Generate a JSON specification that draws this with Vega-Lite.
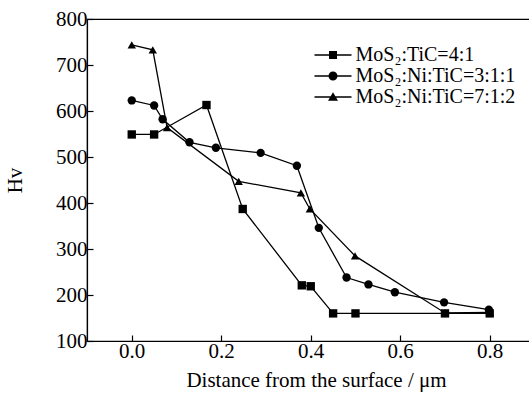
{
  "$schema": "https://vega.github.io/schema/vega-lite/v6.json",
  "autosize": "none",
  "padding": {"left": 87, "top": 19, "right": 0, "bottom": 69},
  "width": 443,
  "height": 322,
  "background": "white",
  "config": {
    "font": "Liberation Serif",
    "view": {"stroke": "black", "strokeWidth": 1.2},
    "axis": {"grid": false, "domainColor": "black", "tickColor": "black", "labelColor": "black", "titleColor": "black", "labelFont": "Liberation Serif", "titleFont": "Liberation Serif", "labelFontSize": 21, "titleFontSize": 21, "titleFontWeight": "normal", "tickSize": -6, "domainWidth": 1.2, "tickWidth": 1.2}
  },
  "data": {"values": [
    {"series": "MoS₂:TiC=4:1", "x": 0.0, "y": 549},
    {"series": "MoS₂:TiC=4:1", "x": 0.05, "y": 549},
    {"series": "MoS₂:TiC=4:1", "x": 0.167, "y": 613},
    {"series": "MoS₂:TiC=4:1", "x": 0.248, "y": 387},
    {"series": "MoS₂:TiC=4:1", "x": 0.38, "y": 221},
    {"series": "MoS₂:TiC=4:1", "x": 0.40, "y": 219},
    {"series": "MoS₂:TiC=4:1", "x": 0.45, "y": 160},
    {"series": "MoS₂:TiC=4:1", "x": 0.50, "y": 160},
    {"series": "MoS₂:TiC=4:1", "x": 0.70, "y": 160},
    {"series": "MoS₂:TiC=4:1", "x": 0.80, "y": 160},
    {"series": "MoS₂:Ni:TiC=3:1:1", "x": 0.0, "y": 623},
    {"series": "MoS₂:Ni:TiC=3:1:1", "x": 0.05, "y": 612},
    {"series": "MoS₂:Ni:TiC=3:1:1", "x": 0.069, "y": 582},
    {"series": "MoS₂:Ni:TiC=3:1:1", "x": 0.129, "y": 532},
    {"series": "MoS₂:Ni:TiC=3:1:1", "x": 0.188, "y": 520},
    {"series": "MoS₂:Ni:TiC=3:1:1", "x": 0.288, "y": 509},
    {"series": "MoS₂:Ni:TiC=3:1:1", "x": 0.369, "y": 481},
    {"series": "MoS₂:Ni:TiC=3:1:1", "x": 0.418, "y": 346},
    {"series": "MoS₂:Ni:TiC=3:1:1", "x": 0.48, "y": 238},
    {"series": "MoS₂:Ni:TiC=3:1:1", "x": 0.529, "y": 223},
    {"series": "MoS₂:Ni:TiC=3:1:1", "x": 0.588, "y": 206},
    {"series": "MoS₂:Ni:TiC=3:1:1", "x": 0.698, "y": 184},
    {"series": "MoS₂:Ni:TiC=3:1:1", "x": 0.798, "y": 168},
    {"series": "MoS₂:Ni:TiC=7:1:2", "x": 0.0, "y": 744},
    {"series": "MoS₂:Ni:TiC=7:1:2", "x": 0.047, "y": 733},
    {"series": "MoS₂:Ni:TiC=7:1:2", "x": 0.079, "y": 564},
    {"series": "MoS₂:Ni:TiC=7:1:2", "x": 0.239, "y": 447},
    {"series": "MoS₂:Ni:TiC=7:1:2", "x": 0.378, "y": 422},
    {"series": "MoS₂:Ni:TiC=7:1:2", "x": 0.398, "y": 387},
    {"series": "MoS₂:Ni:TiC=7:1:2", "x": 0.499, "y": 285},
    {"series": "MoS₂:Ni:TiC=7:1:2", "x": 0.70, "y": 161},
    {"series": "MoS₂:Ni:TiC=7:1:2", "x": 0.80, "y": 162}
  ]},
  "encoding": {
    "x": {"field": "x", "type": "quantitative", "scale": {"domain": [-0.1, 0.89], "nice": false, "zero": false},
      "axis": {"values": [0, 0.2, 0.4, 0.6, 0.8], "format": ".1f", "title": "Distance from the surface / μm", "labelPadding": 5, "titlePadding": 8, "titleX": 229}},
    "y": {"field": "y", "type": "quantitative", "scale": {"domain": [100, 800], "nice": false, "zero": false},
      "axis": {"values": [100, 200, 300, 400, 500, 600, 700, 800], "title": "Hv", "labelPadding": 6, "titlePadding": 30}}
  },
  "layer": [
    {"mark": {"type": "line", "color": "black", "strokeWidth": 1.3},
     "encoding": {"detail": {"field": "series"}}},
    {"mark": {"type": "point", "filled": true, "color": "black", "opacity": 1, "size": 70},
     "encoding": {
       "shape": {"field": "series", "type": "nominal",
         "scale": {"domain": ["MoS₂:TiC=4:1", "MoS₂:Ni:TiC=3:1:1", "MoS₂:Ni:TiC=7:1:2"], "range": ["square", "circle", "triangle-up"]},
         "legend": null}}},
    {"mark": {"type": "point", "filled": true, "color": "black", "opacity": 0, "size": 100},
     "encoding": {
       "shape": {"field": "series", "type": "nominal",
         "scale": {"domain": ["MoS₂:TiC=4:1", "MoS₂:Ni:TiC=3:1:1", "MoS₂:Ni:TiC=7:1:2"],
           "range": ["M-3.7,-0.13H3.7V0.13H-3.7Z M-0.8,-0.8H0.8V0.8H-0.8Z", "M-3.7,-0.13H3.7V0.13H-3.7Z M0.9,0A0.9,0.9 0 1,1 -0.9,0A0.9,0.9 0 1,1 0.9,0Z", "M-3.7,-0.13H3.7V0.13H-3.7Z M0,-0.95L1,0.75L-1,0.75Z"]},
         "legend": {"title": null, "orient": "none", "legendX": 236, "legendY": 26, "padding": 0,
           "labelFontSize": 20, "labelFont": "Liberation Serif", "labelColor": "black", "labelOffset": 12.5,
           "symbolSize": 100, "rowPadding": 1, "symbolFillColor": "black", "symbolStrokeWidth": 0, "symbolOpacity": 1}}}}
  ],
  "resolve": {"scale": {"shape": "independent"}, "legend": {"shape": "independent"}}
}
